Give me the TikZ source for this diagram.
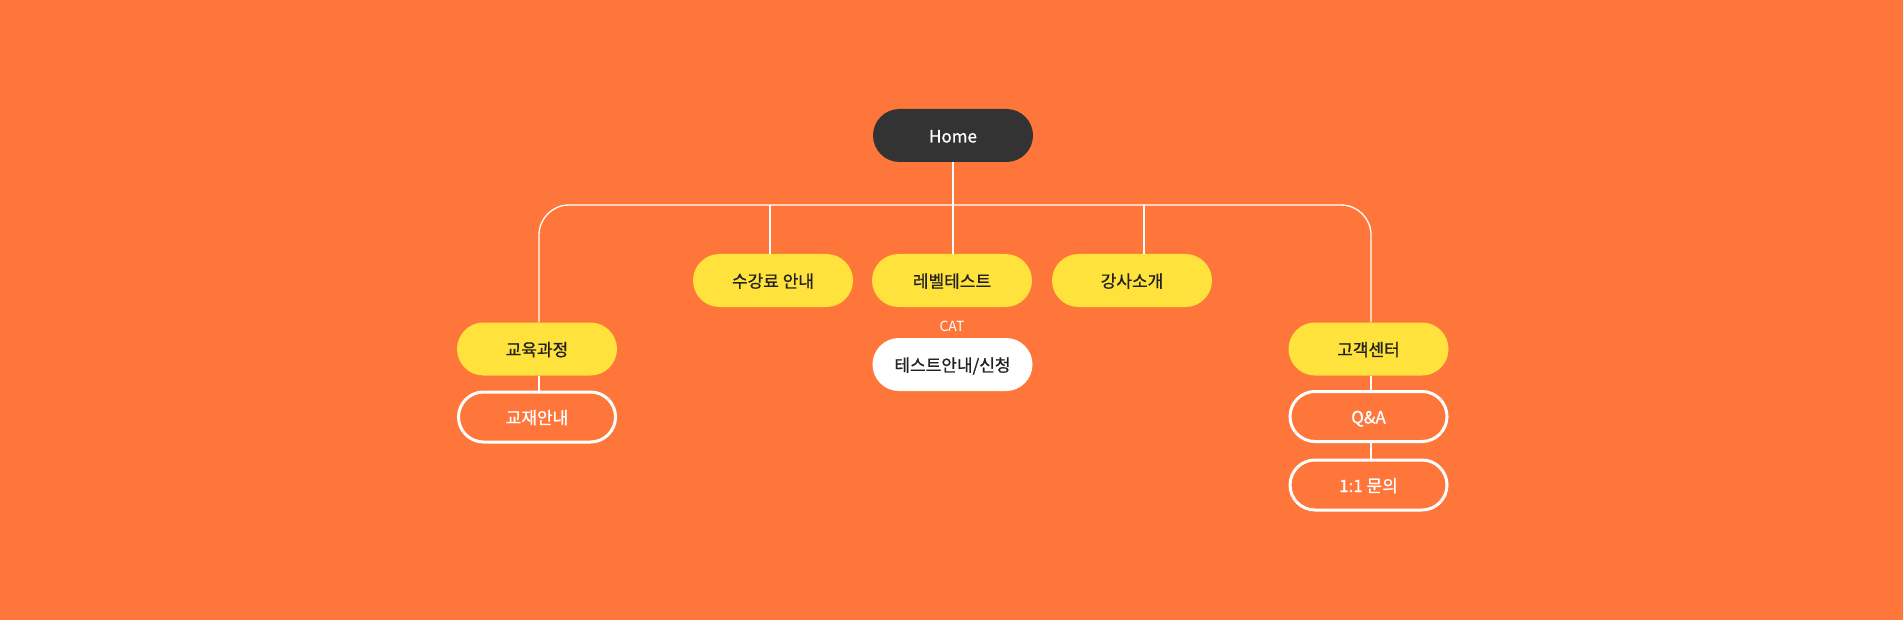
\documentclass[tikz,border=0pt]{standalone}
\usepackage{fontspec}
\setmainfont{Noto Sans CJK KR}
\newfontfamily\medfont{Noto Sans CJK KR}[FakeBold=0.9]
\definecolor{bgorange}{HTML}{FF763A}
\definecolor{boxyellow}{HTML}{FFE23B}
\definecolor{homedark}{HTML}{333333}
\definecolor{txtdark}{HTML}{222222}
\begin{document}
\begin{tikzpicture}[x=1pt,y=-1pt,
  pill/.style={rounded corners=26.5pt, minimum width=160pt, minimum height=53pt, inner sep=0pt, font=\medfont\fontsize{17}{20}\selectfont, anchor=center, text depth=0pt, text height=14pt},
  homebox/.style={pill, fill=homedark, text=white},
  ybox/.style={pill, fill=boxyellow, text=txtdark},
  wbox/.style={pill, fill=white, text=txtdark},
  obox/.style={pill, rounded corners=25pt, minimum width=157pt, minimum height=50pt, draw=white, line width=3pt, text=white},
  conn/.style={draw=white, line width=1.3pt}
]
\fill[bgorange] (0,0) rectangle (1903,620);
\useasboundingbox (0,0) rectangle (1903,620);

\node[homebox] (home) at (953,135.5) {Home};
\node[ybox] (sugang) at (773,280.5) {수강료 안내};
\node[ybox] (level) at (952,280.5) {레벨테스트};
\node[ybox] (gangsa) at (1132,280.5) {강사소개};
\node[ybox] (edu) at (537,349) {교육과정};
\node[obox] (book) at (537,417) {교재안내};
\node[text=white, font=\fontsize{14}{16}\selectfont, inner sep=0pt] (cat) at (952,326) {CAT};
\node[wbox] (test) at (952.5,364.5) {테스트안내/신청};
\node[ybox] (cust) at (1368.5,349) {고객센터};
\node[obox] (qa) at (1368.5,416.5) {Q\&A};
\node[obox] (one) at (1368.5,485) {1:1 문의};

\coordinate (barL) at (539,205);
\coordinate (barR) at (1371,205);
\coordinate (c2) at (770,205);
\coordinate (c4) at (1144,205);

\draw[conn, rounded corners=30pt] (edu.north -| barL) -- (barL) -- (barR) -- (cust.north -| barR);
\draw[conn] (home.south) -- (home.south |- barL);
\draw[conn] (c2) -- (c2 |- sugang.north);
\draw[conn] (home.south |- barL) -- (level.north -| home.south);
\draw[conn] (c4) -- (c4 |- gangsa.north);
\draw[conn] (edu.south -| barL) -- (book.north -| barL);
\draw[conn] (cust.south -| barR) -- (qa.north -| barR);
\draw[conn] (qa.south -| barR) -- (one.north -| barR);
\end{tikzpicture}
\end{document}
